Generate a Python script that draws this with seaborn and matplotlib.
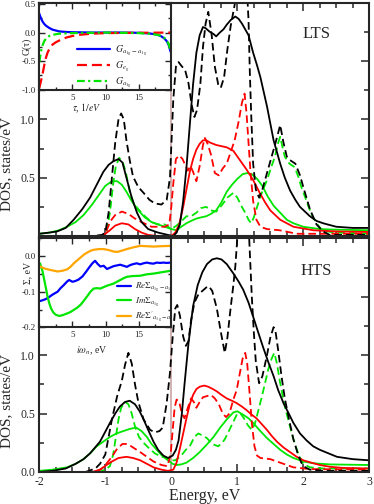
import numpy as np
import matplotlib
matplotlib.use("Agg")
import matplotlib.pyplot as plt
import seaborn as sns
from matplotlib.ticker import MultipleLocator, FormatStrFormatter

# ---------------- DATA ----------------
# LTS (top panel)
lts_black_solid_E = [-2.0, -1.85, -1.73, -1.6, -1.48, -1.35, -1.23, -1.13, -1.03, -0.95, -0.88, -0.8, -0.74, -0.68, -0.6, -0.52, -0.45, -0.35, -0.2, -0.05, 0.03, 0.08, 0.13, 0.18, 0.23, 0.28, 0.33, 0.38, 0.43, 0.48, 0.52, 0.58, 0.64, 0.68, 0.73, 0.79, 0.84, 0.9, 0.97, 1.02, 1.07, 1.12, 1.17, 1.24, 1.3, 1.35, 1.45, 1.55, 1.65, 1.72, 1.8, 1.88, 1.95, 2.1, 2.2, 2.3, 2.5, 2.75, 3.0]
lts_black_solid = [0.02, 0.03, 0.04, 0.07, 0.14, 0.23, 0.33, 0.44, 0.55, 0.61, 0.64, 0.66, 0.63, 0.5, 0.33, 0.2, 0.12, 0.06, 0.03, 0.01, 0.0, 0.03, 0.1, 0.3, 0.59, 0.95, 1.3, 1.57, 1.72, 1.79, 1.78, 1.75, 1.73, 1.71, 1.74, 1.77, 1.81, 1.85, 1.88, 1.86, 1.82, 1.77, 1.72, 1.57, 1.46, 1.36, 1.11, 0.82, 0.62, 0.5, 0.39, 0.31, 0.25, 0.17, 0.13, 0.11, 0.08, 0.07, 0.07]

lts_black_dash_E = [-2.0, -1.2, -1.05, -1.0, -0.95, -0.9, -0.85, -0.8, -0.76, -0.72, -0.68, -0.63, -0.58, -0.5, -0.42, -0.33, -0.25, -0.15, -0.07, -0.02, 0.03, 0.07, 0.11, 0.15, 0.21, 0.26, 0.31, 0.35, 0.39, 0.44, 0.48, 0.52, 0.56, 0.61, 0.66, 0.71, 0.75, 0.8, 0.85, 0.9, 0.96, 1.0, 1.07, 1.13, 1.17, 1.19, 1.21, 1.24, 1.28, 1.33, 1.38, 1.45, 1.52, 1.58, 1.65, 1.7, 1.75, 1.8, 1.88, 1.95, 2.0, 2.1, 2.2, 2.3, 2.4, 3.0]
lts_black_dash = [0.0, 0.0, 0.01, 0.03, 0.2, 0.5, 0.8, 1.0, 1.05, 1.0, 0.82, 0.65, 0.51, 0.42, 0.37, 0.31, 0.28, 0.27, 0.31, 0.5, 1.17, 1.45, 1.49, 1.46, 1.42, 1.31, 1.12, 1.02, 1.08, 1.3, 1.62, 1.82, 1.92, 1.73, 1.45, 1.3, 1.27, 1.36, 1.6, 1.8, 1.98, 2.3, 2.6, 2.3, 1.85, 1.4, 1.05, 0.62, 0.4, 0.33, 0.4, 0.54, 0.68, 0.8, 0.95, 0.8, 0.68, 0.65, 0.62, 0.52, 0.42, 0.23, 0.1, 0.04, 0.01, 0.01]

lts_red_solid_E = [-2.0, -1.1, -1.0, -0.93, -0.85, -0.75, -0.65, -0.55, -0.45, -0.35, -0.2, 0.0, 0.06, 0.12, 0.18, 0.23, 0.28, 0.33, 0.38, 0.43, 0.48, 0.53, 0.59, 0.68, 0.76, 0.84, 0.94, 1.04, 1.14, 1.24, 1.34, 1.42, 1.5, 1.65, 1.85, 2.15, 2.5, 3.0]
lts_red_solid = [0.0, 0.0, 0.02, 0.05, 0.09, 0.11, 0.1, 0.06, 0.03, 0.01, 0.0, 0.0, 0.03, 0.1, 0.25, 0.4, 0.55, 0.66, 0.74, 0.79, 0.82, 0.82, 0.8, 0.78, 0.77, 0.76, 0.73, 0.65, 0.57, 0.48, 0.37, 0.29, 0.22, 0.14, 0.08, 0.05, 0.04, 0.035]

lts_red_dash_E = [-2.0, -1.05, -0.98, -0.92, -0.85, -0.75, -0.65, -0.55, -0.45, -0.3, -0.1, -0.03, 0.0, 0.03, 0.07, 0.12, 0.17, 0.21, 0.25, 0.29, 0.33, 0.38, 0.43, 0.48, 0.51, 0.55, 0.6, 0.66, 0.72, 0.78, 0.84, 0.9, 0.96, 1.02, 1.07, 1.11, 1.14, 1.17, 1.2, 1.24, 1.29, 1.35, 1.45, 1.64, 1.9, 3.0]
lts_red_dash = [0.0, 0.0, 0.05, 0.13, 0.18, 0.21, 0.19, 0.15, 0.12, 0.08, 0.08, 0.1, 0.25, 0.45, 0.66, 0.69, 0.66, 0.61, 0.56, 0.6, 0.55, 0.47, 0.6, 0.78, 0.84, 0.79, 0.7, 0.54, 0.52, 0.58, 0.62, 0.72, 0.82, 0.98, 1.14, 1.22, 1.05, 0.8, 0.55, 0.3, 0.14, 0.08, 0.06, 0.05, 0.02, 0.02]

lts_green_solid_E = [-2.0, -1.84, -1.7, -1.58, -1.45, -1.33, -1.2, -1.1, -1.0, -0.9, -0.82, -0.75, -0.68, -0.6, -0.5, -0.4, -0.3, -0.2, -0.1, 0.0, 0.08, 0.15, 0.23, 0.3, 0.38, 0.45, 0.53, 0.6, 0.68, 0.76, 0.84, 0.92, 1.0, 1.08, 1.15, 1.22, 1.3, 1.38, 1.46, 1.55, 1.65, 1.75, 1.85, 2.0, 2.25, 2.5, 3.0]
lts_green_solid = [0.02, 0.03, 0.05, 0.08, 0.12, 0.18, 0.27, 0.35, 0.43, 0.47, 0.47, 0.44, 0.38, 0.3, 0.22, 0.16, 0.12, 0.1, 0.08, 0.06, 0.05, 0.08, 0.11, 0.13, 0.15, 0.16, 0.17, 0.19, 0.22, 0.29, 0.38, 0.44, 0.49, 0.53, 0.54, 0.53, 0.49, 0.43, 0.34, 0.26, 0.2, 0.14, 0.11, 0.08, 0.06, 0.055, 0.05]

lts_green_dash_E = [-2.0, -1.05, -0.98, -0.93, -0.88, -0.84, -0.79, -0.74, -0.69, -0.63, -0.57, -0.5, -0.4, -0.3, -0.2, -0.1, 0.0, 0.08, 0.16, 0.23, 0.3, 0.38, 0.45, 0.53, 0.6, 0.68, 0.76, 0.85, 0.94, 1.0, 1.06, 1.12, 1.17, 1.21, 1.25, 1.3, 1.35, 1.45, 1.52, 1.57, 1.62, 1.65, 1.69, 1.72, 1.79, 1.87, 1.93, 1.97, 2.03, 2.08, 2.14, 2.2, 2.27, 2.35, 2.5, 3.0]
lts_green_dash = [0.0, 0.0, 0.04, 0.2, 0.45, 0.6, 0.67, 0.64, 0.55, 0.38, 0.28, 0.23, 0.17, 0.12, 0.1, 0.1, 0.06, 0.09, 0.13, 0.17, 0.17, 0.2, 0.24, 0.25, 0.22, 0.21, 0.26, 0.33, 0.37, 0.33, 0.26, 0.2, 0.14, 0.11, 0.16, 0.25, 0.34, 0.48, 0.6, 0.68, 0.8, 0.85, 0.75, 0.68, 0.62, 0.59, 0.5, 0.42, 0.33, 0.25, 0.17, 0.11, 0.06, 0.04, 0.03, 0.02]

# HTS (bottom panel)
hts_black_solid_E = [-2.0, -1.8, -1.6, -1.45, -1.33, -1.23, -1.08, -0.93, -0.85, -0.78, -0.7, -0.63, -0.55, -0.48, -0.42, -0.35, -0.27, -0.2, -0.12, -0.05, 0.02, 0.07, 0.11, 0.16, 0.2, 0.26, 0.33, 0.4, 0.47, 0.54, 0.62, 0.69, 0.76, 0.84, 0.94, 1.02, 1.09, 1.17, 1.24, 1.32, 1.39, 1.47, 1.55, 1.62, 1.7, 1.78, 1.85, 1.95, 2.05, 2.15, 2.25, 2.38, 2.51, 2.75, 3.0]
hts_black_solid = [0.0, 0.01, 0.03, 0.07, 0.11, 0.16, 0.26, 0.42, 0.5, 0.56, 0.6, 0.61, 0.58, 0.52, 0.45, 0.36, 0.26, 0.19, 0.14, 0.12, 0.14, 0.19, 0.27, 0.5, 0.75, 1.1, 1.42, 1.6, 1.71, 1.78, 1.82, 1.83, 1.82, 1.78, 1.7, 1.63, 1.56, 1.45, 1.33, 1.19, 1.07, 0.94, 0.82, 0.7, 0.59, 0.5, 0.42, 0.33, 0.27, 0.22, 0.19, 0.16, 0.13, 0.11, 0.1]

hts_black_dash_E = [-2.0, -1.3, -1.15, -1.08, -1.0, -0.95, -0.9, -0.82, -0.75, -0.7, -0.65, -0.6, -0.55, -0.5, -0.42, -0.32, -0.25, -0.18, -0.13, -0.07, -0.02, 0.02, 0.06, 0.09, 0.13, 0.18, 0.22, 0.26, 0.3, 0.35, 0.41, 0.47, 0.53, 0.57, 0.62, 0.69, 0.75, 0.81, 0.85, 0.89, 0.94, 0.97, 1.0, 1.05, 1.1, 1.15, 1.18, 1.22, 1.25, 1.28, 1.33, 1.38, 1.45, 1.5, 1.55, 1.58, 1.62, 1.67, 1.72, 1.78, 1.85, 1.92, 1.97, 2.03, 2.1, 2.3, 3.0]
hts_black_dash = [0.0, 0.0, 0.03, 0.07, 0.15, 0.3, 0.45, 0.65, 0.78, 0.92, 1.02, 0.93, 0.75, 0.6, 0.45, 0.36, 0.34, 0.35, 0.38, 0.59, 0.85, 1.15, 1.4, 1.43, 1.34, 1.16, 1.08, 1.12, 1.3, 1.45, 1.52, 1.55, 1.58, 1.59, 1.55, 1.4, 1.2, 1.02, 1.15, 1.36, 1.6, 1.76, 2.0, 2.4, 2.6, 2.3, 2.0, 1.5, 1.2, 0.95, 0.76, 0.82, 1.0, 1.15, 1.24, 1.2, 1.04, 0.82, 0.63, 0.46, 0.28, 0.15, 0.08, 0.04, 0.02, 0.01, 0.01]

hts_red_solid_E = [-2.0, -1.2, -1.08, -0.98, -0.9, -0.8, -0.68, -0.58, -0.47, -0.37, -0.27, -0.15, -0.05, 0.03, 0.08, 0.13, 0.18, 0.23, 0.28, 0.33, 0.38, 0.43, 0.5, 0.56, 0.63, 0.69, 0.76, 0.84, 0.92, 0.99, 1.07, 1.14, 1.22, 1.29, 1.37, 1.45, 1.52, 1.6, 1.7, 1.8, 1.9, 2.0, 2.12, 2.25, 2.4, 2.6, 3.0]
hts_red_solid = [0.0, 0.0, 0.02, 0.06, 0.09, 0.12, 0.13, 0.12, 0.1, 0.07, 0.04, 0.02, 0.01, 0.02, 0.08, 0.2, 0.33, 0.46, 0.58, 0.66, 0.71, 0.73, 0.74, 0.73, 0.71, 0.69, 0.66, 0.63, 0.61, 0.59, 0.56, 0.53, 0.49, 0.46, 0.41, 0.36, 0.31, 0.26, 0.21, 0.17, 0.13, 0.1, 0.08, 0.06, 0.045, 0.035, 0.03]

hts_red_dash_E = [-2.0, -1.15, -1.05, -0.97, -0.9, -0.82, -0.74, -0.66, -0.58, -0.47, -0.37, -0.27, -0.15, -0.06, -0.01, 0.02, 0.05, 0.08, 0.12, 0.16, 0.2, 0.25, 0.3, 0.34, 0.38, 0.43, 0.48, 0.54, 0.6, 0.66, 0.72, 0.78, 0.83, 0.88, 0.94, 0.99, 1.04, 1.08, 1.12, 1.15, 1.18, 1.22, 1.26, 1.3, 1.35, 1.5, 1.65, 1.85, 2.1, 3.0]
hts_red_dash = [0.0, 0.0, 0.03, 0.08, 0.13, 0.2, 0.24, 0.24, 0.21, 0.17, 0.13, 0.09, 0.06, 0.05, 0.15, 0.35, 0.55, 0.62, 0.6, 0.5, 0.46, 0.55, 0.63, 0.6, 0.55, 0.6, 0.64, 0.65, 0.66, 0.63, 0.58, 0.5, 0.47, 0.5, 0.62, 0.7, 0.85, 0.97, 1.02, 0.93, 0.72, 0.42, 0.22, 0.14, 0.12, 0.11, 0.08, 0.04, 0.025, 0.02]

hts_green_solid_E = [-2.0, -1.8, -1.58, -1.45, -1.33, -1.23, -1.13, -1.03, -0.93, -0.83, -0.73, -0.62, -0.53, -0.45, -0.37, -0.3, -0.22, -0.14, -0.05, 0.02, 0.08, 0.15, 0.23, 0.33, 0.43, 0.53, 0.64, 0.74, 0.84, 0.94, 1.0, 1.09, 1.17, 1.24, 1.35, 1.45, 1.55, 1.65, 1.75, 1.85, 2.0, 2.15, 2.4, 3.0]
hts_green_solid = [0.01, 0.02, 0.04, 0.07, 0.11, 0.16, 0.22, 0.26, 0.3, 0.33, 0.35, 0.37, 0.38, 0.35, 0.3, 0.24, 0.19, 0.14, 0.1, 0.07, 0.06, 0.065, 0.08, 0.12, 0.17, 0.23, 0.3, 0.38, 0.45, 0.51, 0.52, 0.49, 0.46, 0.42, 0.35, 0.29, 0.24, 0.19, 0.15, 0.12, 0.09, 0.075, 0.065, 0.06]

hts_green_dash_E = [-2.0, -1.1, -1.0, -0.93, -0.88, -0.84, -0.8, -0.76, -0.7, -0.65, -0.6, -0.55, -0.49, -0.42, -0.35, -0.25, -0.15, -0.05, 0.0, 0.06, 0.15, 0.22, 0.28, 0.35, 0.41, 0.48, 0.54, 0.62, 0.71, 0.77, 0.81, 0.88, 0.94, 1.0, 1.05, 1.1, 1.16, 1.22, 1.27, 1.32, 1.37, 1.42, 1.47, 1.52, 1.56, 1.6, 1.65, 1.72, 1.78, 1.84, 1.92, 2.0, 2.1, 2.3, 3.0]
hts_green_dash = [0.0, 0.0, 0.02, 0.05, 0.15, 0.3, 0.45, 0.55, 0.6, 0.58, 0.5, 0.39, 0.3, 0.25, 0.21, 0.16, 0.13, 0.12, 0.1, 0.1, 0.14, 0.19, 0.22, 0.3, 0.33, 0.31, 0.29, 0.24, 0.22, 0.25, 0.28, 0.36, 0.43, 0.5, 0.5, 0.46, 0.4, 0.36, 0.42, 0.53, 0.64, 0.76, 0.88, 0.97, 1.02, 0.93, 0.76, 0.56, 0.43, 0.3, 0.16, 0.07, 0.04, 0.03, 0.03]

# Inset: G(tau)
tau_blue = [0.0, 0.25, 0.5, 0.75, 1.0, 1.5, 2.0, 3.0, 4.0, 5.0, 8.0, 12.0, 15.0, 16.5, 17.5, 18.3, 18.8, 19.2, 19.5, 19.8]
g_a1g_a1g = [0.33, 0.25, 0.19, 0.15, 0.12, 0.08, 0.05, 0.02, 0.01, 0.005, 0.0, 0.0, -0.005, -0.015, -0.03, -0.06, -0.1, -0.15, -0.22, -0.34]
tau_red = [0.0, 0.25, 0.5, 0.75, 1.0, 1.25, 1.5, 2.0, 2.5, 3.0, 4.0, 5.0, 6.0, 8.0, 10.0, 14.0, 18.0, 19.8]
g_eg = [-0.97, -0.85, -0.72, -0.57, -0.44, -0.35, -0.29, -0.21, -0.17, -0.14, -0.09, -0.06, -0.04, -0.02, -0.01, -0.005, -0.002, 0.0]
tau_green = [0.0, 0.25, 0.5, 0.75, 1.0, 1.5, 2.0, 3.0, 5.0, 10.0, 15.0, 17.0, 18.0, 18.6, 19.1, 19.5, 19.8]
g_a1g = [-0.52, -0.33, -0.22, -0.15, -0.11, -0.06, -0.04, -0.02, -0.01, 0.0, -0.01, -0.025, -0.045, -0.07, -0.12, -0.2, -0.33]

# Inset: Sigma(i omega_n)
w_blue = [0.15, 0.8, 1.25, 2.0, 2.75, 3.2, 3.7, 4.2, 4.5, 5.0, 5.4, 5.9, 6.5, 7.0, 7.5, 8.0, 8.4, 8.8, 9.2, 9.7, 10.2, 10.7, 11.2, 11.7, 12.2, 12.7, 13.2, 13.7, 14.2, 14.7, 15.2, 15.7, 16.2, 16.7, 17.2, 17.7, 18.2, 18.7, 19.2, 19.8]
re_sigma_a1g_a1g = [-0.126, -0.122, -0.118, -0.108, -0.1, -0.09, -0.081, -0.071, -0.067, -0.072, -0.07, -0.066, -0.057, -0.045, -0.032, -0.02, -0.013, -0.022, -0.029, -0.027, -0.036, -0.032, -0.028, -0.026, -0.024, -0.027, -0.03, -0.025, -0.022, -0.02, -0.023, -0.02, -0.018, -0.02, -0.021, -0.018, -0.019, -0.018, -0.019, -0.018]
w_green = [0.1, 0.45, 0.75, 1.0, 1.25, 1.5, 1.75, 2.1, 2.5, 3.0, 3.5, 4.2, 4.7, 5.2, 5.7, 6.2, 6.6, 7.0, 7.4, 7.7, 8.2, 8.7, 9.2, 9.7, 10.2, 10.7, 11.2, 11.7, 12.2, 12.7, 13.2, 14.0, 15.2, 16.2, 17.2, 18.5, 19.8]
im_sigma_a1g = [-0.02, -0.04, -0.067, -0.09, -0.114, -0.132, -0.146, -0.158, -0.165, -0.168, -0.166, -0.161, -0.157, -0.151, -0.145, -0.137, -0.128, -0.118, -0.108, -0.1, -0.091, -0.09, -0.091, -0.087, -0.083, -0.08, -0.077, -0.072, -0.067, -0.062, -0.058, -0.056, -0.055, -0.051, -0.049, -0.045, -0.041]
w_orange = [0.15, 0.7, 1.25, 2.0, 2.75, 3.5, 4.2, 4.7, 5.2, 5.7, 6.2, 6.7, 7.2, 7.7, 8.2, 9.0, 9.7, 10.5, 11.2, 11.8, 12.5, 13.2, 14.2, 15.2, 16.2, 17.2, 18.2, 19.8]
re_sigma_p = [-0.029, -0.034, -0.037, -0.04, -0.043, -0.041, -0.037, -0.03, -0.02, -0.012, -0.004, 0.004, 0.01, 0.015, 0.018, 0.02, 0.02, 0.017, 0.013, 0.012, 0.016, 0.02, 0.025, 0.029, 0.028, 0.027, 0.028, 0.029]

# ---------------- STYLE ----------------
sns.set_style("ticks")
plt.rcParams['font.family'] = ['Liberation Serif', 'DejaVu Serif']
plt.rcParams['mathtext.fontset'] = 'stix'
plt.rcParams['axes.unicode_minus'] = False

BLACK = '#000000'
RED = '#ff0000'
GREEN = '#00e600'
BLUE = '#0000ff'
ORANGE = '#ffa500'
VLINE = '#c9a6a6'

fig = plt.figure(figsize=(3.74, 5.04), dpi=100)

W, H = 374.0, 504.0
def px_rect(x0, y0, x1, y1):
    return [x0 / W, (H - y1) / H, (x1 - x0) / W, (y1 - y0) / H]

ax_top = fig.add_axes(px_rect(39.3, 2.5, 369.3, 236.1))
ax_bot = fig.add_axes(px_rect(39.3, 238.4, 369.3, 472.0))


def curve(ax, x, y, color, lw, dashes=None, label=None):
    sns.lineplot(x=x, y=y, color=color, linewidth=lw, ax=ax, legend=False,
                 estimator=None, sort=False, label=label)
    line = ax.lines[-1]
    if dashes is not None:
        line.set_dashes(dashes)
    return line

DASH = (4.2, 2.2)
LW = 1.3

for ax in (ax_top, ax_bot):
    ax.axvline(0, color=VLINE, lw=1.2, zorder=1)

curve(ax_top, lts_green_solid_E, lts_green_solid, GREEN, LW)
curve(ax_top, lts_green_dash_E, lts_green_dash, GREEN, LW, DASH)
curve(ax_top, lts_red_solid_E, lts_red_solid, RED, LW)
curve(ax_top, lts_red_dash_E, lts_red_dash, RED, LW, DASH)
curve(ax_top, lts_black_solid_E, lts_black_solid, BLACK, LW)
curve(ax_top, lts_black_dash_E, lts_black_dash, BLACK, LW, DASH)

curve(ax_bot, hts_green_solid_E, hts_green_solid, GREEN, LW)
curve(ax_bot, hts_green_dash_E, hts_green_dash, GREEN, LW, DASH)
curve(ax_bot, hts_red_solid_E, hts_red_solid, RED, LW)
curve(ax_bot, hts_red_dash_E, hts_red_dash, RED, LW, DASH)
curve(ax_bot, hts_black_solid_E, hts_black_solid, BLACK, LW)
curve(ax_bot, hts_black_dash_E, hts_black_dash, BLACK, LW, DASH)

for ax in (ax_top, ax_bot):
    ax.set_xlim(-2, 3)
    ax.set_ylim(0, 2.0)
    ax.xaxis.set_major_locator(MultipleLocator(1))
    ax.xaxis.set_minor_locator(MultipleLocator(0.25))
    ax.set_yticks([0, 0.5, 1.0, 1.5, 2.0])
    ax.yaxis.set_minor_locator(MultipleLocator(0.25))
    ax.tick_params(which='both', direction='in', top=True, right=True,
                   width=1.1, labelsize=8.5, pad=3)
    ax.tick_params(which='major', length=6)
    ax.tick_params(which='minor', length=3.5)
    for s in ax.spines.values():
        s.set_linewidth(1.5)
    ax.set_ylabel("DOS, states/eV", fontsize=11)
    ax.set_xlabel("")

ax_top.set_yticklabels(['', '0.5', '1.0', '', ''])
ax_bot.set_yticklabels(['0.0', '0.5', '1.0', '', ''])
ax_top.tick_params(labelbottom=False)
ax_bot.set_xticks([-2, -1, 0, 1, 2, 3])
ax_bot.set_xticklabels(['-2', '-1', '0', '1', '2', '3'])
ax_bot.set_xlabel("Energy, eV", fontsize=11.5, labelpad=0)
ax_top.yaxis.set_label_coords(-0.078, 0.31)
ax_bot.yaxis.set_label_coords(-0.078, 0.305)

ax_top.text(0.84, 0.865, "LTS", transform=ax_top.transAxes, fontsize=12,
            ha='center', va='center')
ax_bot.text(0.84, 0.862, "HTS", transform=ax_bot.transAxes, fontsize=12,
            ha='center', va='center')

# ---------------- INSETS ----------------
ax_g = fig.add_axes(px_rect(39.3, 2.5, 170.7, 90.3), facecolor='white')
ax_s = fig.add_axes(px_rect(39.3, 238.4, 170.7, 327.3), facecolor='white')

IL = 1.6
l1 = curve(ax_g, tau_blue, g_a1g_a1g, BLUE, IL, label=r"$G_{a_{1g}-a_{1g}}$")
l2 = curve(ax_g, tau_red, g_eg, RED, IL, (4.5, 2.2), label=r"$G_{e_g}$")
l3 = curve(ax_g, tau_green, g_a1g, GREEN, IL, (3.5, 1.5, 1.0, 1.5), label=r"$G_{a_{1g}}$")

m1 = curve(ax_s, w_blue, re_sigma_a1g_a1g, BLUE, IL, label=r"$Re\Sigma_{a_{1g}-a_{1g}}$")
m2 = curve(ax_s, w_green, im_sigma_a1g, GREEN, IL, label=r"$Im\Sigma_{a_{1g}}$")
m3 = curve(ax_s, w_orange, re_sigma_p, ORANGE, IL, label=r"$Re\Sigma'_{a_{1g}-a_{1g}}$")

for ax in (ax_g, ax_s):
    ax.set_xlim(0, 19.8)
    ax.set_xticks([5, 10, 15])
    ax.xaxis.set_minor_locator(MultipleLocator(2.5))
    ax.tick_params(which='both', direction='in', top=True, right=True,
                   width=1.0, labelsize=6.5, pad=2.5)
    ax.tick_params(which='major', length=4)
    ax.tick_params(which='minor', length=2.5)
    for s in ax.spines.values():
        s.set_linewidth(1.5)
    ax.yaxis.set_major_formatter(FormatStrFormatter('%.1f'))

ax_g.set_ylim(-1.01, 0.525)
ax_g.set_yticks([-1.0, -0.5, 0.0, 0.5])
ax_g.yaxis.set_minor_locator(MultipleLocator(0.25))
ax_s.set_ylim(-0.2, 0.05)
ax_s.set_yticks([-0.2, -0.1, 0.0])
ax_s.yaxis.set_minor_locator(MultipleLocator(0.05))

ax_g.set_ylabel("G(τ)", fontsize=7, labelpad=0)
ax_g.yaxis.set_label_coords(-0.055, 0.50)
ax_g.set_xlabel(r"$\tau$, $1/eV$", fontsize=7, labelpad=0)
ax_g.xaxis.set_label_coords(0.36, -0.13)
ax_s.set_ylabel("Σ, eV", fontsize=7, labelpad=0)
ax_s.yaxis.set_label_coords(-0.055, 0.61)
ax_s.set_xlabel(r"$i\omega_n$, eV", fontsize=7, labelpad=0)
ax_s.xaxis.set_label_coords(0.40, -0.19)

ax_g.legend(handles=[l1, l2, l3], loc='upper left', bbox_to_anchor=(0.285, 0.53),
            frameon=False, fontsize=7, handlelength=3.4, handletextpad=0.5,
            labelspacing=0.15, borderpad=0, borderaxespad=0)
ax_s.legend(handles=[m1, m2, m3], loc='upper left', bbox_to_anchor=(0.589, 0.52),
            frameon=False, fontsize=6.5, handlelength=1.6, handletextpad=0.4,
            labelspacing=0.15, borderpad=0, borderaxespad=0)

fig.savefig("out.png", dpi=100)
